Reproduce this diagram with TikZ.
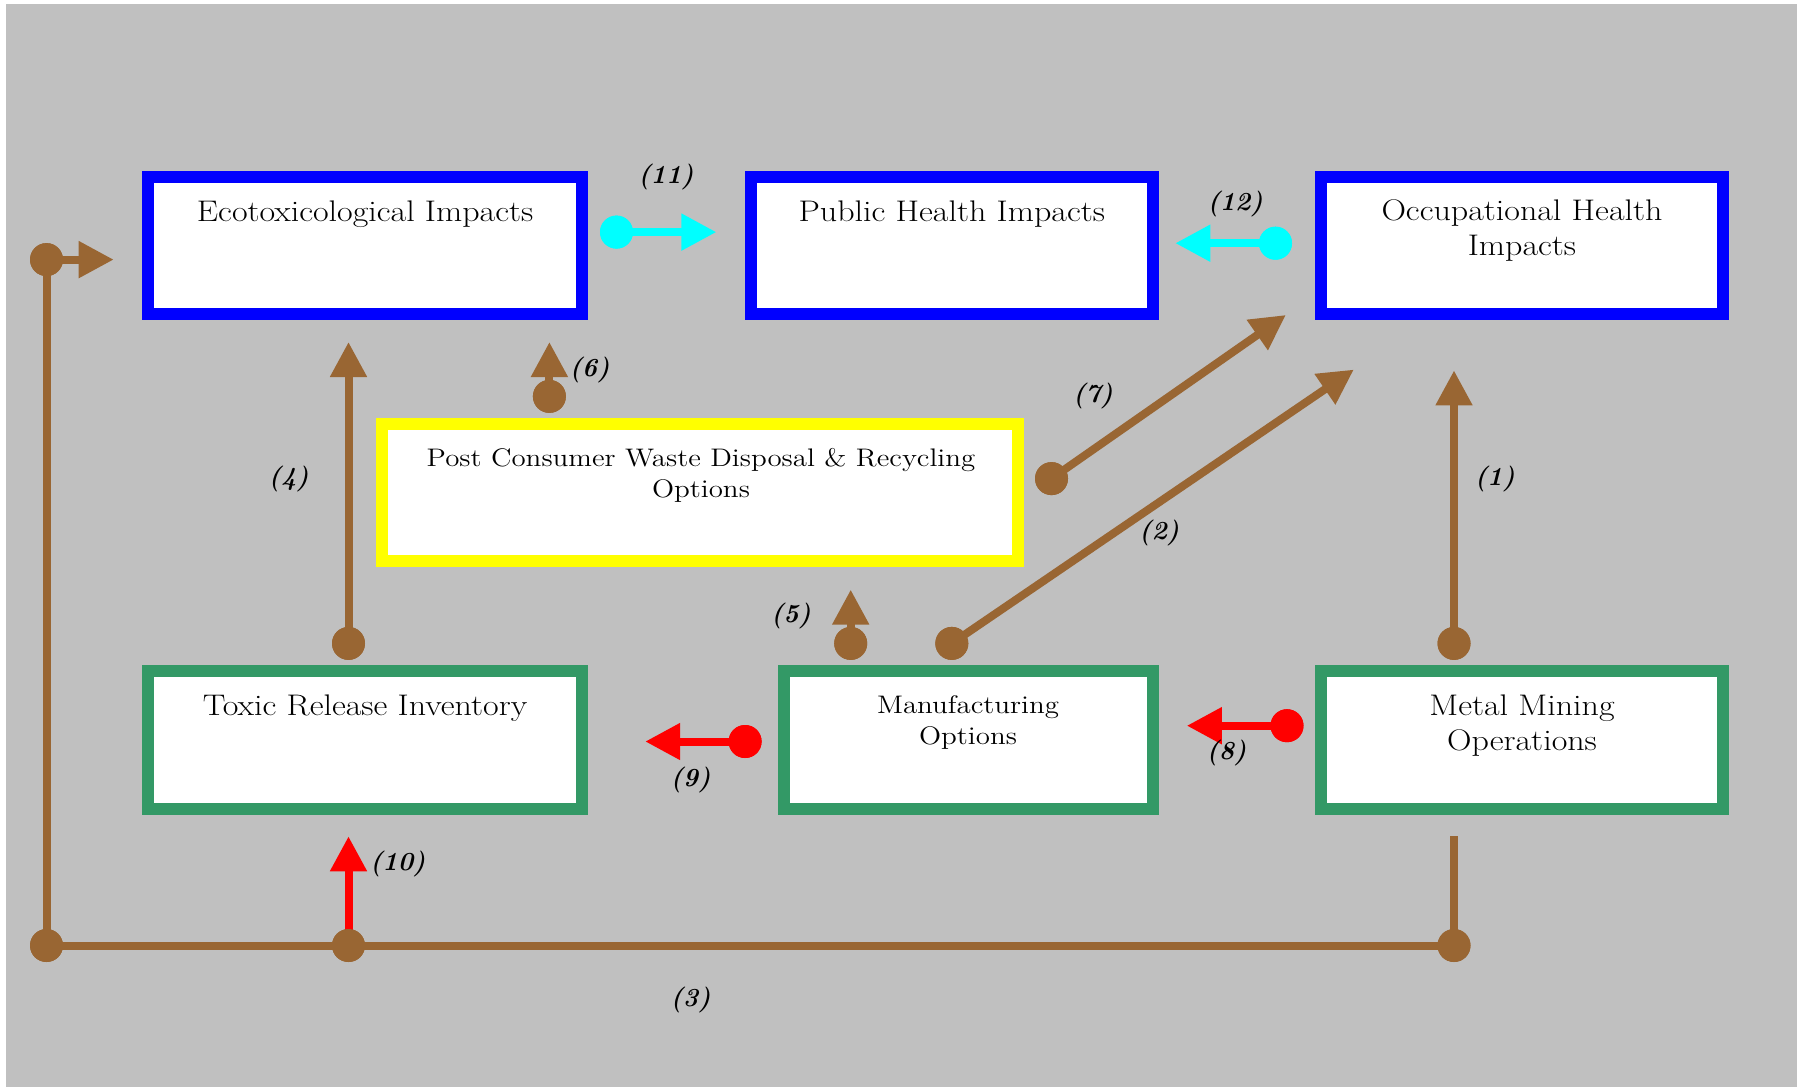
\documentclass[tikz,border=0pt]{standalone}
\usepackage{fontspec}
\setmainfont{Latin Modern Roman}[FakeStretch=1.14]
\newfontfamily\lblfont{Latin Modern Roman}
\usetikzlibrary{arrows.meta}
\definecolor{bgGray}{RGB}{192,192,192}
\definecolor{brn}{RGB}{153,102,51}
\definecolor{grn}{RGB}{51,153,102}
\definecolor{cyn}{RGB}{0,255,255}
\definecolor{rd}{RGB}{255,0,0}
\definecolor{blu}{RGB}{0,0,255}
\definecolor{ylw}{RGB}{255,255,0}
\begin{document}
\begin{tikzpicture}[x=0.5pt,y=-0.5pt,
  box/.style={draw=#1, line width=6pt, fill=white, inner sep=0pt, outer sep=0pt, minimum height=68.5pt},
  txt/.style={font=\fontsize{14.9}{17.25}\selectfont, align=center, anchor=base, inner sep=0pt},
  stxt/.style={font=\fontsize{12.7}{15.5}\selectfont, align=center, anchor=base, inner sep=0pt},
  lbl/.style={font=\lblfont\fontsize{13}{15}\selectfont\bfseries\itshape, inner sep=0pt},
  dot/.style={circle, fill=#1, minimum size=16.5pt, inner sep=0pt, outer sep=0pt},
  con/.style={draw=#1, line width=4pt, -{Triangle[length=17.5pt,width=17.5pt]}},
  wire/.style={draw=brn, line width=4pt}
]
\useasboundingbox (0,0) rectangle (1803,1087);
\fill[white] (0,0) rectangle (1803,1087);
\fill[bgGray] (6,4) rectangle (1797,1087);

% boxes
\node[box=blu, minimum width=217.3pt] (eco) at (365.1,245.9) {};
\node[box=blu, minimum width=200.8pt] (pub) at (951.8,245.9) {};
\node[box=blu, minimum width=200.75pt] (occ) at (1522,245.9) {};
\node[box=ylw, minimum width=318.2pt, minimum height=68.75pt] (post) at (700.2,492.65) {};
\node[box=grn, minimum width=217.3pt, minimum height=68.65pt] (tox) at (365.1,739.85) {};
\node[box=grn, minimum width=184.1pt, minimum height=68.65pt] (man) at (968.5,739.85) {};
\node[box=grn, minimum width=200.75pt, minimum height=68.65pt] (met) at (1522,739.85) {};

% box texts (anchor=base is the last line's baseline)
\node[txt] (ecot) at (365.1,221) {Ecotoxicological Impacts};
\node[txt] (pubt) at (951.8,221) {Public Health Impacts};
\node[txt] (occt) at (1522,255) {Occupational Health\\Impacts};
\node[stxt] (postt) at (701,497) {Post Consumer Waste Disposal \& Recycling\\Options};
\node[txt] (toxt) at (365.1,715) {Toxic Release Inventory};
\node[stxt] (mant) at (968,744) {Manufacturing\\Options};
\node[txt,font=\fontsize{14.9}{17.5}\selectfont] (mett) at (1522,750) {Metal Mining\\Operations};

% dots
\node[dot=brn] (dL) at (46.5,259.6) {};
\node[dot=brn] (dBL) at (46.5,945.5) {};
\node[dot=brn] (dBM) at (348.5,945.5) {};
\node[dot=brn] (dBR) at (1454,945.5) {};
\node[dot=brn] (d4) at (348.5,643.4) {};
\node[dot=brn] (d6) at (549.4,396.4) {};
\node[dot=cyn] (d11) at (616.5,232.1) {};
\node[dot=cyn] (d12) at (1275.5,243.2) {};
\node[dot=brn] (d7) at (1051.5,478.6) {};
\node[dot=brn] (d2) at (951.8,643.4) {};
\node[dot=brn] (d1) at (1454,643.4) {};
\node[dot=brn] (d5) at (850.7,643.4) {};
\node[dot=rd] (d9) at (745.1,741.5) {};
\node[dot=rd] (d8) at (1287,725.7) {};

% arrow tips / free ends
\coordinate (tL) at (113.7,259.6);
\coordinate (t4) at (348.5,342);
\coordinate (t6) at (549.4,342);
\coordinate (t11) at (716.4,232.1);
\coordinate (t12) at (1175.3,243.2);
\coordinate (t7) at (1285.9,315);
\coordinate (t2) at (1353.8,369.6);
\coordinate (t1) at (1454,370.4);
\coordinate (t5) at (850.7,589.6);
\coordinate (t9) at (645.2,741.5);
\coordinate (t8) at (1186.8,725.7);
\coordinate (t10) at (348.5,836.3);
\coordinate (mtop) at (1454,836.3);

% wires
\path[wire] (dBL.center) -- (dL.center);
\path[wire] (dBL.center) -- (dBR.center);
\path[wire] (mtop) -- (dBR.center);

% connectors
\path[con=brn] (dL.center) -- (tL);
\path[con=brn] (d4.center) -- (t4);
\path[con=brn] (d6.center) -- (t6);
\path[con=cyn] (d11.center) -- (t11);
\path[con=cyn] (d12.center) -- (t12);
\path[con=brn] (d7.center) -- (t7);
\path[con=brn] (d2.center) -- (t2);
\path[con=brn] (d1.center) -- (t1);
\path[con=brn] (d5.center) -- (t5);
\path[con=rd] (d9.center) -- (t9);
\path[con=rd] (d8.center) -- (t8);
\path[con=rd] (dBM.center) -- (t10);

% redraw dots on top
\foreach \d/\c in {dL/brn,dBL/brn,dBM/brn,dBR/brn,d4/brn,d6/brn,d11/cyn,d12/cyn,d7/brn,d2/brn,d1/brn,d5/brn,d9/rd,d8/rd}
  \fill[\c] (\d.center) circle (8.25pt);

% labels
\node[lbl] (l1) at (1494.9,478.6) {(1)};
\node[lbl] (l2) at (1159.2,533.2) {(2)};
\node[lbl] (l3) at (690.6,1000) {(3)};
\node[lbl] (l4) at (288.7,478.6) {(4)};
\node[lbl] (l5) at (791,615.5) {(5)};
\node[lbl] (l6) at (589.6,369.6) {(6)};
\node[lbl] (l7) at (1093,396.4) {(7)};
\node[lbl] (l8) at (1226.5,753.3) {(8)};
\node[lbl] (l9) at (690.6,780) {(9)};
\node[lbl] (l10) at (397.8,863.5) {(10)};
\node[lbl] (l11) at (666,176.8) {(11)};
\node[lbl] (l12) at (1235.2,203.6) {(12)};
\end{tikzpicture}
\end{document}
